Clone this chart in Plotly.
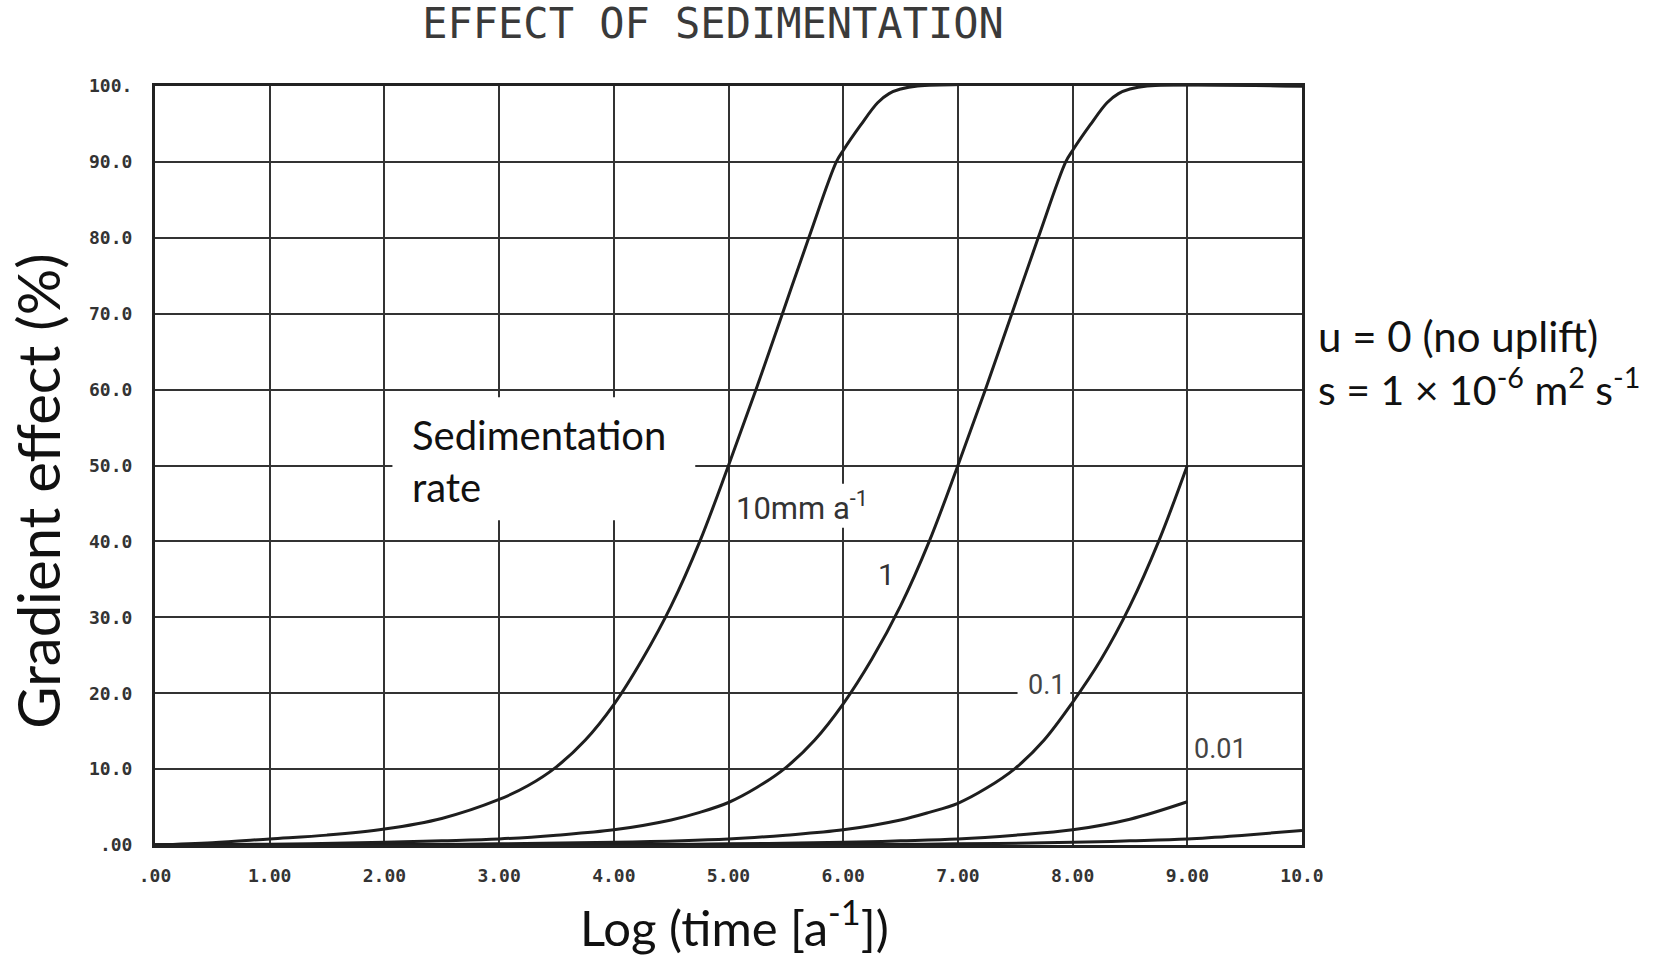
import plotly.graph_objects as go

# ---- data ----
x_tick_vals = [0, 1, 2, 3, 4, 5, 6, 7, 8, 9, 10]
x_tick_text = [".00", "1.00", "2.00", "3.00", "4.00", "5.00", "6.00", "7.00", "8.00", "9.00", "10.0"]
y_tick_vals = [0, 10, 20, 30, 40, 50, 60, 70, 80, 90, 100]
y_tick_text = [".00", "10.0", "20.0", "30.0", "40.0", "50.0", "60.0", "70.0", "80.0", "90.0", "100."]

# sedimentation rate 10 mm/a
x_r10 = [0, 0.5, 1, 1.5, 2, 2.5, 3, 3.25, 3.5, 3.75, 4, 4.25, 4.5, 4.75, 5, 5.24, 5.47, 5.70,
         5.94, 6.0, 6.15, 6.3, 6.4, 6.5, 6.65, 10]
y_r10 = [0, 0.3, 0.8, 1.3, 2.1, 3.5, 6.0, 7.8, 10.3, 13.8, 18.5, 24.5, 31.5, 40, 50, 60, 70, 80,
         90, 91.5, 94.8, 97.8, 99.0, 99.6, 100, 100]

# 1 mm/a
x_r1 = [0, 1, 2, 2.5, 3, 3.5, 4, 4.5, 4.75, 5, 5.25, 5.5, 5.75, 6, 6.25, 6.5, 6.75, 7, 7.24,
        7.47, 7.70, 7.94, 8.0, 8.15, 8.3, 8.4, 8.5, 8.65, 10]
y_r1 = [0, 0.1, 0.35, 0.55, 0.8, 1.3, 2.0, 3.3, 4.3, 5.6, 7.6, 10.2, 13.8, 18.6, 24.5, 31.5, 40,
        50, 60, 70, 80, 90, 91.5, 94.8, 97.8, 99.0, 99.6, 100, 100]

# 0.1 mm/a
x_r01 = [0, 2, 3, 4, 5, 5.5, 6, 6.5, 6.75, 7, 7.25, 7.5, 7.75, 8, 8.25, 8.5, 8.75, 9]
y_r01 = [0, 0.05, 0.15, 0.35, 0.8, 1.3, 2.0, 3.3, 4.3, 5.5, 7.5, 10.1, 13.8, 18.8, 24.5, 31.5,
         40, 50]

# 0.01 mm/a
x_r001 = [0, 4, 5, 6, 6.5, 7, 7.5, 8, 8.5, 9]
y_r001 = [0, 0.05, 0.15, 0.35, 0.55, 0.8, 1.3, 2.0, 3.4, 5.7]

# unlabelled lowest curve (0.001 mm/a)
x_r0001 = [0, 6, 7, 8, 8.5, 9, 9.5, 10]
y_r0001 = [0, 0.05, 0.15, 0.35, 0.55, 0.8, 1.3, 1.9]

series = [
    ("10 mm/a", x_r10, y_r10),
    ("1 mm/a", x_r1, y_r1),
    ("0.1 mm/a", x_r01, y_r01),
    ("0.01 mm/a", x_r001, y_r001),
    ("0.001 mm/a", x_r0001, y_r0001),
]

LINE = "#1e1e1e"
GRID = "#333333"
CAL = "Lato"

fig = go.Figure()
for name, xs, ys in series:
    fig.add_trace(go.Scatter(x=xs, y=ys, mode="lines", name=name,
                             line=dict(color=LINE, width=3, shape="spline", smoothing=1.0),
                             showlegend=False, hoverinfo="skip"))

# white patches that hide grid lines behind the labels (as in the reference)
patches = [
    (2.07, 4.71, 42.8, 59.0),   # "Sedimentation rate" box
    (5.06, 6.10, 41.8, 47.6),   # "10mm a-1" label
    (7.52, 7.98, 19.0, 21.2),   # "0.1" label
]
for x0, x1, y0, y1 in patches:
    fig.add_shape(type="rect", x0=x0, x1=x1, y0=y0, y1=y1, xref="x", yref="y",
                  fillcolor="white", line=dict(width=0), layer="between")

ann = []
ann.append(dict(x=2.22, y=54.0, text="Sedimentation", xanchor="left", yanchor="middle",
                font=dict(family=CAL, size=40, color="#111")))
ann.append(dict(x=2.22, y=47.2, text="rate", xanchor="left", yanchor="middle",
                font=dict(family=CAL, size=40, color="#111")))
ann.append(dict(x=5.05, y=44.6, text="10mm a<sup>-1</sup>", xanchor="left", yanchor="middle",
                font=dict(family="Roboto", size=31, color="#333")))
ann.append(dict(x=6.38, y=35.6, text="1", xanchor="center", yanchor="middle",
                font=dict(family="Roboto", size=30, color="#333")))
ann.append(dict(x=7.77, y=21.1, text="0.1", xanchor="center", yanchor="middle",
                font=dict(family="Roboto", size=27, color="#444")))
ann.append(dict(x=9.29, y=12.6, text="0.01", xanchor="center", yanchor="middle",
                font=dict(family="Roboto", size=27, color="#444")))
for a in ann:
    a.update(xref="x", yref="y", showarrow=False)

# side notes (paper coordinates, right of the plot)
ann.append(dict(x=1.012, y=0.671, xref="paper", yref="paper", text="u = 0 (no uplift)",
                showarrow=False, xanchor="left", yanchor="middle",
                font=dict(family=CAL, size=42, color="#111")))
ann.append(dict(x=1.012, y=0.603, xref="paper", yref="paper",
                text="s = 1 × 10<sup>-6</sup> m<sup>2</sup> s<sup>-1</sup>",
                showarrow=False, xanchor="left", yanchor="middle",
                font=dict(family=CAL, size=41, color="#111")))

# axis titles
ann.append(dict(x=-0.1025, y=0.466, xref="paper", yref="paper", text="Gradient effect (%)",
                textangle=-90, showarrow=False, xanchor="center", yanchor="middle",
                font=dict(family=CAL, size=58, color="#111")))
ann.append(dict(x=0.505, y=-0.104, xref="paper", yref="paper",
                text="Log (time [a<sup>-1</sup>])", showarrow=False,
                xanchor="center", yanchor="middle",
                font=dict(family=CAL, size=49, color="#111")))

tickfont = dict(family="DejaVu Sans Mono", size=18, color="#333", weight="bold")

fig.update_layout(
    width=1656, height=957,
    margin=dict(l=155, r=354, t=86, b=112),
    paper_bgcolor="white", plot_bgcolor="white",
    title=dict(text="EFFECT OF SEDIMENTATION", x=713 / 1656, y=1 - 23 / 957,
               xanchor="center", yanchor="middle",
               font=dict(family="DejaVu Sans Mono", size=42, color="#3a3a3a")),
    annotations=ann,
    xaxis=dict(range=[0, 10], tickvals=x_tick_vals, ticktext=x_tick_text,
               showgrid=True, gridcolor=GRID, gridwidth=2, zeroline=False,
               showline=True, linecolor="#222", linewidth=3, mirror=True,
               ticks="", tickfont=tickfont, ticklabelstandoff=12),
    yaxis=dict(range=[0, 100], tickvals=y_tick_vals, ticktext=y_tick_text,
               showgrid=True, gridcolor=GRID, gridwidth=2, zeroline=False,
               showline=True, linecolor="#222", linewidth=3, mirror=True,
               ticks="", tickfont=tickfont, ticklabelstandoff=16),
)

fig.write_html("out.html")
